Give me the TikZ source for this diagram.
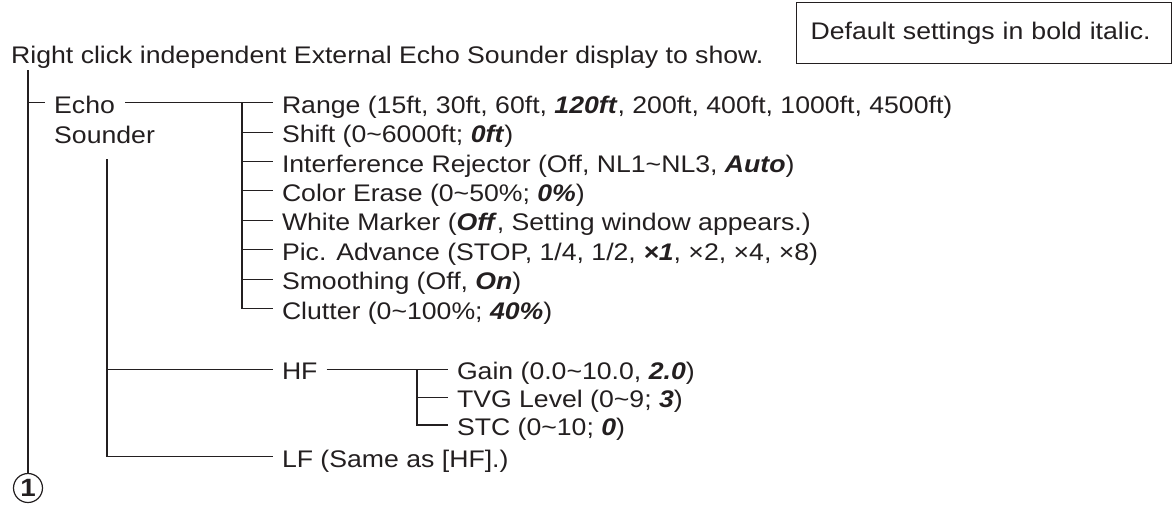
\documentclass[tikz,border=0pt]{standalone}
\usepackage{fontspec}
\setmainfont[FakeStretch=1.11]{Liberation Sans}
\newcommand\tild{\textasciitilde}
\newcommand\bi[1]{\textbf{\textit{#1}}}
\definecolor{ink}{HTML}{231F20}
\begin{document}
\begin{tikzpicture}[x=1pt,y=-1pt,
  every node/.style={text=ink, font=\fontsize{24}{30}\selectfont},
  conn/.style={draw=ink, line width=1.1pt},
  item/.style={anchor=west, inner xsep=9pt, inner ysep=0pt, outer sep=0pt,
    text height=25pt, text depth=3.8pt}]
\useasboundingbox (0,0) rectangle (1172,504);

% title and note
\node[anchor=base west, inner sep=0pt] (title) at (11,63)
  {Right click independent External Echo Sounder display to show.};
\node[draw=ink, line width=1.1pt, anchor=north west, minimum width=375pt,
  minimum height=61pt, inner xsep=14pt, text width=347pt, align=left] (note)
  at (796,2) {Default settings in bold italic.};

% Echo Sounder
\node[anchor=base west, inner xsep=9pt, inner ysep=0pt, align=left] (echo)
  at (45,143.3) {Echo\\Sounder};

% items
\node[item] (range) at (273,102.7) {Range (15ft, 30ft, 60ft, \bi{120ft}, 200ft, 400ft, 1000ft, 4500ft)};
\node[item] (shift) at (273,132.1) {Shift (0\tild6000ft; \bi{0ft})};
\node[item] (ir)    at (273,161.5) {Interference Rejector (Off, NL1\tild NL3, \bi{Auto})};
\node[item] (ce)    at (273,190.9) {Color Erase (0\tild50\%; \bi{0\%})};
\node[item] (wm)    at (273,220.3) {White Marker (\bi{Off}, Setting window appears.)};
\node[item] (pa)    at (273,249.7) {Pic. Advance (STOP, 1/4, 1/2, \bi{×1}, ×2, ×4, ×8)};
\node[item] (sm)    at (273,279.1) {Smoothing (Off, \bi{On})};
\node[item] (cl)    at (273,308.5) {Clutter (0\tild100\%; \bi{40\%})};

\node[item] (hf)    at (273,369.3) {HF};
\node[item] (lf)    at (273,456.5) {LF (Same as [HF].)};

\node[item] (gain)  at (448,369.3) {Gain (0.0\tild10.0, \bi{2.0})};
\node[item] (tvg)   at (448,397.3) {TVG Level (0\tild9; \bi{3})};
\node[item] (stc)   at (448,425.0) {STC (0\tild10; \bi{0})};

\node[draw=ink, circle, line width=1.2pt, minimum size=29pt, inner sep=0pt,
  font=\fontsize{25}{30}\bfseries] (one) at (28,488) {1};

% coordinates
\coordinate (m0) at (28,70);
\coordinate (m1) at (28,102.7);
\coordinate (e0) at (125,102.7);
\coordinate (bA) at (242,102.7);
\coordinate (s0) at (107,159);
\coordinate (bB) at (417,369.3);

% connectors
\draw[conn] (m0) -- (one.north);
\draw[conn] (m1) -- (m1 -| echo.west);
\draw[conn] (e0) -- (range.west);
\draw[conn] (bA) |- (shift.west);
\draw[conn] (bA) |- (ir.west);
\draw[conn] (bA) |- (ce.west);
\draw[conn] (bA) |- (wm.west);
\draw[conn] (bA) |- (pa.west);
\draw[conn] (bA) |- (sm.west);
\draw[conn] (bA) |- (cl.west);
\draw[conn] (s0) |- (lf.west);
\draw[conn] (s0 |- hf.west) -- (hf.west);
\draw[conn] (hf.east) -- (gain.west);
\draw[conn] (bB) |- (tvg.west);
\draw[conn] (bB) |- (stc.west);
\end{tikzpicture}
\end{document}
